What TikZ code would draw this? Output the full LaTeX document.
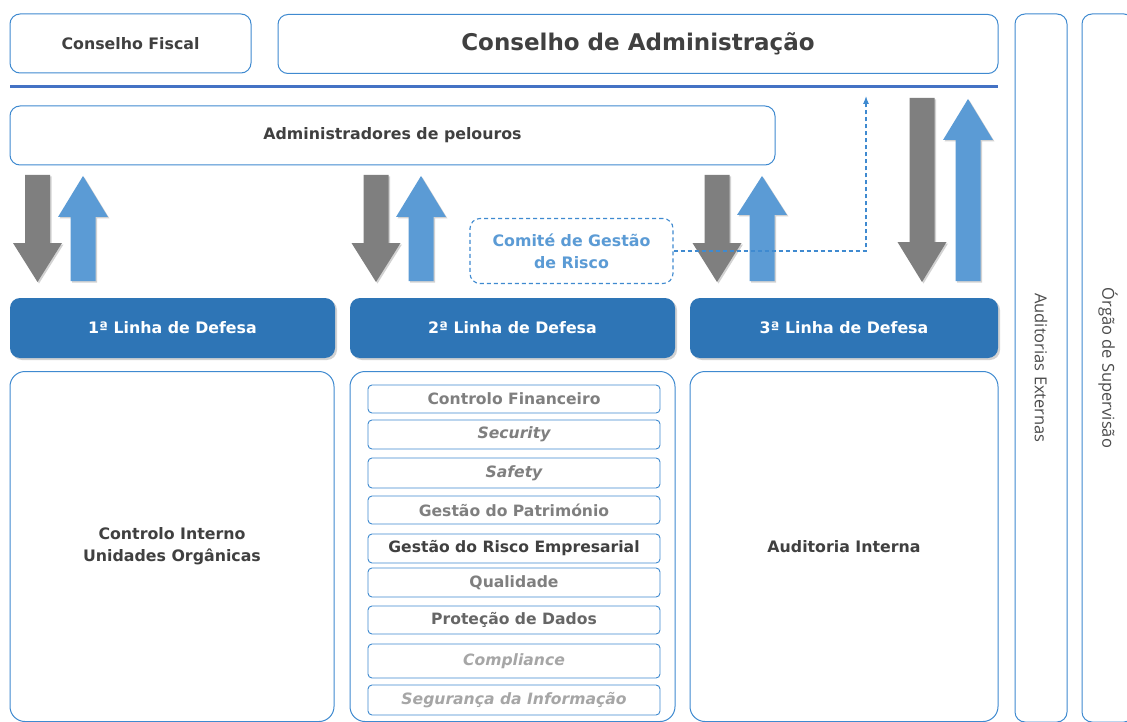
\documentclass[tikz,border=0pt]{standalone}
\usepackage{fontspec}
\setmainfont{DejaVu Sans}
\newfontfamily\vertfont{Open Sans}
\usetikzlibrary{shadows,arrows.meta}
\definecolor{bord}{HTML}{3F8AD0}
\definecolor{linhafill}{HTML}{2E75B6}
\definecolor{arrgray}{HTML}{7F7F7F}
\definecolor{arrblue}{HTML}{5B9BD5}
\definecolor{txtdark}{HTML}{404040}
\definecolor{txtgray}{HTML}{7F7F7F}
\definecolor{txtlight}{HTML}{A6A6A6}
\definecolor{hline}{HTML}{4472C4}
\newcommand\arrDown[4]{% cx, top, headbase, tip
  \fill[arrgray, drop shadow={shadow xshift=1.5pt, shadow yshift=-1.5pt, opacity=0.35}]
    (#1-12.5,#2) -- (#1+12.5,#2) -- (#1+12.5,#3) -- (#1+24.5,#3) -- (#1,#4)
    -- (#1-24.5,#3) -- (#1-12.5,#3) -- cycle;}
\newcommand\arrUp[4]{% cx, bottom, headbase, tip
  \fill[arrblue, drop shadow={shadow xshift=1.5pt, shadow yshift=-1.5pt, opacity=0.35}]
    (#1-12.5,#2) -- (#1+12.5,#2) -- (#1+12.5,#3) -- (#1+25,#3) -- (#1,#4)
    -- (#1-25,#3) -- (#1-12.5,#3) -- cycle;}
\begin{document}
\begin{tikzpicture}[x=1pt,y=-1pt,
  box/.style={draw=bord, line width=1pt, fill=white, rounded corners=10pt,
    inner sep=0pt, align=center, text=txtdark, font=\bfseries\fontsize{15.8}{22}\selectfont},
  bigbox/.style={box, rounded corners=15pt},
  linha/.style={fill=linhafill, rounded corners=10pt, inner sep=0pt,
    minimum height=60pt, text=white, font=\bfseries\fontsize{15.8}{19}\selectfont,
    drop shadow={shadow xshift=2pt, shadow yshift=-2pt, opacity=0.35}},
  item/.style={draw=bord, line width=0.9pt, fill=white, rounded corners=4pt,
    inner sep=0pt, minimum width=292pt, text=txtgray,
    font=\bfseries\fontsize{15.6}{18}\selectfont},
  vbox/.style={draw=bord, line width=1pt, fill=white, rounded corners=10pt,
    inner sep=0pt, minimum width=52pt, minimum height=708pt},
  vtext/.style={rotate=-90, text=black!70, font=\vertfont\fontsize{16.5}{19}\selectfont},
  comite/.style={draw=bord, dash pattern=on 4pt off 3pt, line width=1.1pt, rounded corners=10pt,
    inner sep=0pt, align=center, text=arrblue, font=\bfseries\fontsize{15.8}{22}\selectfont}
  ]
\useasboundingbox[fill=white] (0,0) rectangle (1127,722);

% top row
\node[box, minimum width=241pt, minimum height=59pt] (cf) at (130.5,43.5) {\raisebox{-1pt}{Conselho Fiscal}};
\node[box, minimum width=720pt, minimum height=59pt, font=\bfseries\fontsize{23}{26}\selectfont] (ca) at (638,44) {Conselho de Administração};

% blue line
\coordinate (hl1) at (10,87);
\coordinate (hl2) at (998,87);
\draw[hline, line width=3pt] (hl1) -- (hl2);

\node[box, minimum width=765pt, minimum height=59pt] (ap) at (392.5,135.5) {\raisebox{-3pt}{Administradores de pelouros}};

% right columns
\node[vbox] (ae) at (1041,368) {};
\node[vtext] at (ae.center) {Auditorias Externas};
\node[vbox] (os) at (1108,368) {};
\node[vtext] at (os.center) {Órgão de Supervisão};

% arrows
\arrDown{37.5}{175}{243}{282}
\arrUp{83}{281}{217}{176}
\arrDown{376}{175}{243}{282}
\arrUp{421}{281}{217}{176}
\arrDown{717}{175}{243}{282}
\arrUp{762}{281}{215}{176}
\arrDown{922}{98}{242}{282}
\arrUp{968}{281}{140}{99}

% comite
\node[comite, minimum width=203pt, minimum height=65pt] (cg) at (571.5,251) {Comité de Gestão\\de Risco};
\coordinate (up) at (866,96);
\draw[bord, dash pattern=on 4pt off 3pt, line width=1.1pt, -{Latex[length=8pt,width=6pt]}] (cg.east) -| (up);

% linhas
\node[linha, minimum width=325pt] (l1) at (172.5,328) {1ª Linha de Defesa};
\node[linha, minimum width=325pt] (l2) at (512.5,328) {2ª Linha de Defesa};
\node[linha, minimum width=308pt] (l3) at (844,328) {3ª Linha de Defesa};

% lower boxes
\node[bigbox, minimum width=324pt, minimum height=350pt] (b1) at (172,546.5) {\raisebox{-2pt}{\parbox{300pt}{\centering Controlo Interno\\Unidades Orgânicas}}};
\node[bigbox, minimum width=325pt, minimum height=350pt] (b2) at (512.5,546.5) {};
\node[bigbox, minimum width=308pt, minimum height=350pt] (b3) at (844,546.5) {Auditoria Interna};

% list
\node[item, minimum height=28pt] (i1) at (514,399) {Controlo Financeiro};
\node[item, minimum height=29pt] (i2) at (514,434.5) {\itshape Security};
\node[item, minimum height=30pt] (i3) at (514,473) {\itshape Safety};
\node[item, minimum height=28pt] (i4) at (514,510) {Gestão do Património};
\node[item, minimum height=29pt, text=txtdark] (i5) at (514,548.5) {Gestão do Risco Empresarial};
\node[item, minimum height=29pt] (i6) at (514,582.5) {Qualidade};
\node[item, minimum height=28pt, text=black!60] (i7) at (514,620) {Proteção de Dados};
\node[item, minimum height=34pt, text=txtlight] (i8) at (514,661) {\itshape Compliance};
\node[item, minimum height=30pt, text=txtlight] (i9) at (514,700) {\itshape Segurança da Informação};
\end{tikzpicture}
\end{document}
